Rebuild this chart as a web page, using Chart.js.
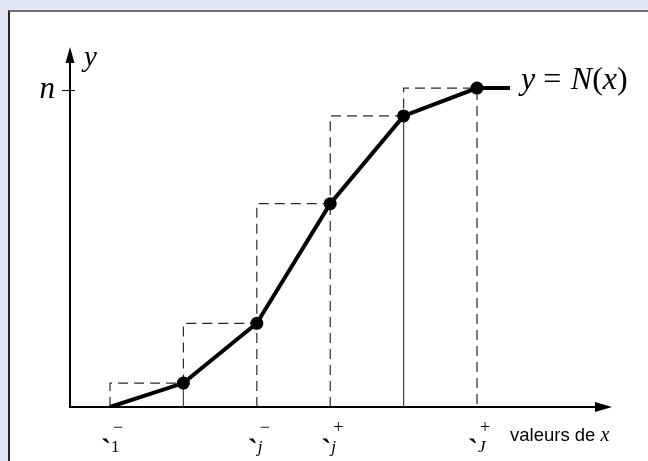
<!DOCTYPE html>
<html>
<head>
<meta charset="utf-8">
<script src="https://cdn.jsdelivr.net/npm/chart.js@4/dist/chart.umd.min.js"></script>
<style>
  html, body { margin: 0; padding: 0; width: 648px; height: 461px; overflow: hidden; background: #e1e7f5; }
  #panel { position: absolute; left: 8px; top: 10px; width: 720px; height: 520px; background: #ffffff;
           border-left: 2px solid #262626; border-top: 2px solid #707070; }
  #wrap { position: absolute; left: 0; top: 0; width: 648px; height: 461px; }
</style>
</head>
<body>
<div id="panel"></div>
<div id="wrap"><canvas id="c" width="648" height="461"></canvas></div>
<script>
// Class boundaries on the x axis
const boundaries = [10, 20, 30, 40, 50, 60];
// Cumulative counts N(x) reached at the right end of each class
const cumulative = [6, 21, 51, 73, 80];
// Total count n
const total = 80;
// Where the plateau of N(x) is drawn up to
const plateauEnd = 64.5;
// Tick labels under the x axis: position, base glyph, subscript, superscript
const tickValues = [10, 30, 40, 60];
const tickBase = ['`', '`', '`', '`'];
const tickSub = ['1', 'j', 'j', 'J'];
const tickSubItalic = [false, true, true, true];
const tickSup = ['\u2212', '\u2212', '+', '+'];
// Inner class edges drawn as solid thin lines instead of dashed
const solidEdges = [20, 50];

// Frequency polygon through the top-right corners of the cumulative classes
const polygon = [{ x: boundaries[0], y: 0 }]
  .concat(cumulative.map((c, i) => ({ x: boundaries[i + 1], y: c })))
  .concat([{ x: plateauEnd, y: total }]);
const polygonRadius = polygon.map((p, i) => (i === 0 || i === polygon.length - 1) ? 0 : 6.5);

// Dashed outline of the cumulative histogram
const dashed = [{ x: boundaries[0], y: 0 }];
cumulative.forEach((c, i) => {
  dashed.push({ x: boundaries[i], y: c });
  dashed.push({ x: boundaries[i + 1], y: c });
});
dashed.push({ x: boundaries[boundaries.length - 1], y: 0 });
const solid = [];
for (let k = 1; k < boundaries.length - 1; k++) {
  const seg = solidEdges.includes(boundaries[k]) ? solid : dashed;
  seg.push({ x: boundaries[k], y: null });
  seg.push({ x: boundaries[k], y: 0 });
  seg.push({ x: boundaries[k], y: cumulative[k - 1] });
}

const serif = '"Liberation Serif", "Times New Roman", serif';
const sans = '"Liberation Sans", Arial, sans-serif';

const annotate = {
  id: 'annotate',
  beforeDatasetsDraw(chart) {
    const { ctx, chartArea: a, scales: { x, y } } = chart;
    const ox = x.getPixelForValue(x.min);
    const oy = y.getPixelForValue(0);
    ctx.save();
    ctx.strokeStyle = '#000';
    ctx.fillStyle = '#000';
    ctx.lineWidth = 2;
    // x axis with arrow
    ctx.beginPath();
    ctx.moveTo(ox, oy);
    ctx.lineTo(a.right - 10, oy);
    ctx.stroke();
    ctx.beginPath();
    ctx.moveTo(a.right, oy);
    ctx.lineTo(a.right - 17, oy - 5);
    ctx.lineTo(a.right - 17, oy + 5);
    ctx.closePath();
    ctx.fill();
    // y axis with arrow
    ctx.beginPath();
    ctx.moveTo(ox, oy + 1);
    ctx.lineTo(ox, a.top + 10);
    ctx.stroke();
    ctx.beginPath();
    ctx.moveTo(ox, a.top);
    ctx.lineTo(ox - 4.5, a.top + 16);
    ctx.lineTo(ox + 4.5, a.top + 16);
    ctx.closePath();
    ctx.fill();
    // tick for n
    const ny = y.getPixelForValue(total);
    ctx.lineWidth = 1;
    ctx.beginPath();
    ctx.moveTo(ox - 8, ny + 2.5);
    ctx.lineTo(ox + 5, ny + 2.5);
    ctx.stroke();
    ctx.restore();
  },
  afterDraw(chart) {
    const { ctx, chartArea: a, scales: { x, y } } = chart;
    const ox = x.getPixelForValue(x.min);
    const oy = y.getPixelForValue(0);
    const ny = y.getPixelForValue(total);
    ctx.save();
    ctx.fillStyle = '#000';
    ctx.textBaseline = 'alphabetic';
    // axis names
    ctx.font = 'italic 29px ' + serif;
    ctx.textAlign = 'left';
    ctx.fillText('y', ox + 14, a.top + 19);
    ctx.font = 'italic 31px ' + serif;
    ctx.textAlign = 'right';
    ctx.fillText('n', ox - 15, ny + 10);
    ctx.textAlign = 'left';
    // curve name y = N(x)
    const parts = [['y', true], [' = ', false], ['N', true], ['(', false], ['x', true], [')', false]];
    let cx = x.getPixelForValue(plateauEnd) + 11;
    const by = ny + 1;
    parts.forEach(([t, it]) => {
      ctx.font = (it ? 'italic ' : '') + '32px ' + serif;
      ctx.fillText(t, cx, by);
      cx += ctx.measureText(t).width + (t === ' = ' ? 1.5 : 0);
    });
    // x axis caption
    ctx.font = '18.5px ' + sans;
    let tx = 510;
    ctx.fillText('valeurs de ', tx, oy + 34);
    tx += ctx.measureText('valeurs de ').width;
    ctx.font = 'italic 20px ' + serif;
    ctx.fillText('x', tx, oy + 34);
    // tick labels with sub- and superscripts
    tickValues.forEach((v, i) => {
      const px = x.getPixelForValue(v);
      ctx.font = 'bold 30px ' + serif;
      ctx.textAlign = 'center';
      ctx.fillText(tickBase[i], px - 4, oy + 52);
      ctx.textAlign = 'left';
      ctx.font = (tickSubItalic[i] ? 'italic ' : '') + '17px ' + serif;
      ctx.fillText(tickSub[i], px + 1, oy + 45);
      ctx.font = '18px ' + serif;
      ctx.fillText(tickSup[i], px + 3, oy + 26);
    });
    ctx.restore();
  }
};

new Chart(document.getElementById('c'), {
  type: 'line',
  data: {
    datasets: [
      {
        label: 'N(x)',
        data: polygon,
        borderColor: '#000',
        borderWidth: 4,
        pointRadius: polygonRadius,
        pointBackgroundColor: '#000',
        pointBorderWidth: 0,
        tension: 0
      },
      {
        label: 'classes',
        data: dashed,
        borderColor: '#2a2a2a',
        borderWidth: 1.2,
        borderDash: [10, 6],
        pointRadius: 0,
        spanGaps: false,
        tension: 0
      },
      {
        label: 'bords',
        data: solid,
        borderColor: '#444',
        borderWidth: 1.2,
        pointRadius: 0,
        spanGaps: false,
        tension: 0
      }
    ]
  },
  options: {
    responsive: false,
    devicePixelRatio: 1,
    animation: false,
    layout: { padding: { left: 70, right: 36, top: 47, bottom: 54 } },
    plugins: { legend: { display: false }, tooltip: { enabled: false } },
    scales: {
      x: { type: 'linear', display: false, min: 4.55, max: 78.39 },
      y: { type: 'linear', display: false, min: 0, max: 90.3 }
    }
  },
  plugins: [annotate]
});
</script>
</body>
</html>
